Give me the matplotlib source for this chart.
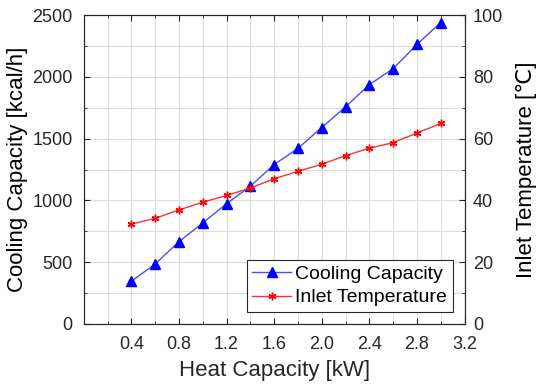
import numpy as np
import matplotlib.pyplot as plt
from matplotlib.ticker import MultipleLocator, FixedLocator

plt.rcParams["font.family"] = ["Liberation Sans", "DejaVu Sans"]

# data
heat_capacity = [0.4, 0.6, 0.8, 1.0, 1.2, 1.4, 1.6, 1.8, 2.0, 2.2, 2.4, 2.6, 2.8, 3.0]
cooling_capacity = [345, 485, 666, 817, 973, 1115, 1290, 1421, 1590, 1757, 1937, 2066, 2262, 2440]
inlet_temperature = [32.3, 34.2, 36.9, 39.4, 41.6, 44.0, 47.0, 49.4, 51.7, 54.5, 56.9, 58.7, 61.8, 64.9]

x_ticks = [0.4, 0.8, 1.2, 1.6, 2.0, 2.4, 2.8, 3.2]

fig = plt.figure(figsize=(5.37, 3.87), dpi=100)
ax1 = fig.add_axes([0.156, 0.163, 0.709, 0.798])
ax2 = ax1.twinx()

tick_color = "#262626"

l1, = ax1.plot(heat_capacity, cooling_capacity, "-", color="#4b4bff", lw=1,
               marker="^", markersize=7.5, mfc="blue", mec="blue", label="Cooling Capacity")
l2, = ax2.plot(heat_capacity, inlet_temperature, "-", color="#ff3030", lw=1,
               marker=(6, 2, 0), markersize=5.5, mfc="red", mec="red", mew=1.0,
               label="Inlet Temperature")

ax1.set_xlim(0, 3.2)
ax1.set_ylim(0, 2500)
ax2.set_ylim(0, 100)

ax1.xaxis.set_major_locator(FixedLocator(x_ticks))
ax1.set_xticklabels([f"{v:.1f}" for v in x_ticks])
ax1.xaxis.set_minor_locator(MultipleLocator(0.2))
ax1.yaxis.set_major_locator(MultipleLocator(500))
ax1.yaxis.set_minor_locator(MultipleLocator(250))
ax2.yaxis.set_major_locator(MultipleLocator(20))
ax2.yaxis.set_minor_locator(MultipleLocator(10))

ax1.grid(True, which="both", color="#dcdcdc", lw=0.8)
ax1.set_axisbelow(True)

for ax in (ax1, ax2):
    ax.tick_params(which="both", direction="in", colors=tick_color, labelsize=13,
                   top=True)
    ax.tick_params(which="major", length=4)
    ax.tick_params(which="minor", length=2.5)
    for s in ax.spines.values():
        s.set_color(tick_color)
        s.set_linewidth(0.8)
ax1.tick_params(axis="y", which="both", left=True, pad=8)
ax1.tick_params(axis="x", which="both", pad=9)
ax2.tick_params(axis="y", which="both", left=False, pad=6)

ax1.set_xlabel("Heat Capacity [kW]", fontsize=16, color=tick_color, labelpad=5)
ax1.set_ylabel("Cooling Capacity [kcal/h]", fontsize=16, color="black", labelpad=3)
ax2.set_ylabel("Inlet Temperature [\u2103]", fontsize=16, color="black", labelpad=9)

leg = ax2.legend(handles=[l1, l2], loc="lower right", fontsize=14, fancybox=False,
                 framealpha=1, edgecolor="#262626", borderpad=0.3, handlelength=2.0,
                 handletextpad=0.2, labelspacing=0.3, borderaxespad=0.6)
leg.get_frame().set_linewidth(0.8)

fig.savefig("out.png", dpi=100)
